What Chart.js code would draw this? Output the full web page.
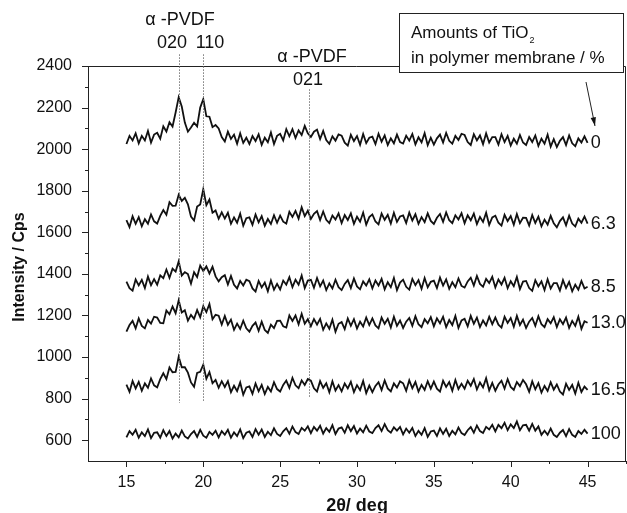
<!DOCTYPE html>
<html>
<head>
<meta charset="utf-8">
<script src="https://cdn.jsdelivr.net/npm/chart.js@4/dist/chart.umd.min.js"></script>
<style>
  html, body { margin: 0; padding: 0; background: #fff; }
  #wrap { width: 627px; height: 513px; }
</style>
</head>
<body>
<div id="wrap"><canvas id="xrd" width="627" height="513"></canvas></div>
<script>
// 2theta grid: 15.0 .. 45.0 in 0.2 deg steps
const twoTheta = Array.from({ length: 151 }, (_, i) => +(15 + i * 0.2).toFixed(1));

// TiO2 content labels (%), top to bottom
const tio2Labels = ['0', '6.3', '8.5', '13.0', '16.5', '100'];

// intensities (Cps, already offset as plotted)
const pct0 = [
  2025, 2064, 2042, 2076, 2028, 2064, 2042, 2088, 2032, 2070,
  2079, 2050, 2110, 2085, 2130, 2109, 2176, 2250, 2205, 2128,
  2084, 2104, 2127, 2109, 2200, 2240, 2158, 2156, 2106, 2116,
  2100, 2058, 2037, 2084, 2049, 2070, 2026, 2076, 2030, 2055,
  2025, 2063, 2039, 2071, 2021, 2055, 2033, 2080, 2025, 2064,
  2074, 2042, 2096, 2062, 2096, 2054, 2090, 2068, 2112, 2076,
  2059, 2084, 2094, 2049, 2088, 2044, 2026, 2062, 2041, 2071,
  2065, 2031, 2017, 2069, 2039, 2063, 2021, 2073, 2029, 2055,
  2060, 2024, 2074, 2036, 2066, 2020, 2052, 2028, 2070, 2034,
  2027, 2065, 2041, 2073, 2023, 2057, 2033, 2077, 2019, 2055,
  2022, 2052, 2070, 2032, 2078, 2040, 2026, 2064, 2044, 2074,
  2068, 2034, 2020, 2072, 2042, 2066, 2024, 2076, 2032, 2058,
  2058, 2022, 2072, 2034, 2064, 2018, 2050, 2026, 2068, 2032,
  2020, 2058, 2034, 2066, 2016, 2050, 2026, 2070, 2012, 2048,
  2010, 2040, 2058, 2020, 2066, 2028, 2014, 2052, 2032, 2062,
  2030
];
const pct6_3 = [
  1659, 1625, 1677, 1641, 1673, 1629, 1663, 1641, 1686, 1653,
  1642, 1679, 1707, 1684, 1745, 1727, 1728, 1781, 1751, 1766,
  1735, 1676, 1657, 1724, 1734, 1808, 1731, 1758, 1694, 1705,
  1665, 1696, 1666, 1694, 1641, 1672, 1646, 1690, 1632, 1668,
  1672, 1636, 1686, 1648, 1678, 1632, 1664, 1640, 1682, 1646,
  1680, 1651, 1642, 1699, 1674, 1703, 1666, 1720, 1678, 1704,
  1664, 1689, 1702, 1659, 1700, 1660, 1644, 1681, 1661, 1691,
  1645, 1683, 1659, 1691, 1641, 1675, 1651, 1695, 1637, 1673,
  1686, 1652, 1638, 1690, 1660, 1684, 1642, 1694, 1650, 1676,
  1681, 1645, 1695, 1657, 1687, 1641, 1673, 1649, 1691, 1655,
  1640, 1670, 1688, 1650, 1696, 1658, 1644, 1682, 1662, 1692,
  1644, 1682, 1658, 1690, 1640, 1674, 1650, 1694, 1636, 1672,
  1680, 1646, 1632, 1684, 1654, 1678, 1636, 1688, 1644, 1670,
  1669, 1633, 1683, 1645, 1675, 1629, 1661, 1637, 1679, 1643,
  1624, 1654, 1672, 1634, 1680, 1642, 1628, 1666, 1646, 1676,
  1642
];
const pct8_5 = [
  1363, 1331, 1319, 1373, 1345, 1371, 1332, 1387, 1346, 1375,
  1348, 1393, 1379, 1421, 1381, 1425, 1411, 1460, 1392, 1408,
  1399, 1353, 1408, 1385, 1440, 1414, 1436, 1402, 1434, 1388,
  1364, 1384, 1394, 1349, 1390, 1347, 1330, 1366, 1344, 1372,
  1365, 1330, 1315, 1366, 1335, 1358, 1316, 1368, 1324, 1352,
  1325, 1368, 1348, 1384, 1336, 1372, 1348, 1392, 1332, 1368,
  1372, 1333, 1380, 1340, 1368, 1322, 1354, 1330, 1372, 1336,
  1322, 1352, 1370, 1332, 1378, 1340, 1326, 1364, 1344, 1374,
  1330, 1368, 1344, 1376, 1326, 1360, 1336, 1380, 1322, 1358,
  1372, 1338, 1324, 1376, 1346, 1370, 1328, 1380, 1336, 1362,
  1368, 1332, 1382, 1344, 1374, 1328, 1360, 1336, 1378, 1342,
  1334, 1364, 1382, 1344, 1390, 1352, 1338, 1376, 1356, 1386,
  1335, 1373, 1349, 1381, 1331, 1365, 1341, 1385, 1327, 1363,
  1366, 1332, 1318, 1370, 1340, 1364, 1322, 1374, 1330, 1356,
  1356, 1320, 1370, 1332, 1362, 1316, 1348, 1324, 1366, 1330,
  1338
];
const pct13 = [
  1122, 1154, 1174, 1138, 1186, 1150, 1138, 1178, 1161, 1194,
  1190, 1164, 1162, 1224, 1206, 1243, 1211, 1273, 1214, 1225,
  1175, 1203, 1184, 1226, 1191, 1245, 1216, 1255, 1182, 1203,
  1199, 1156, 1198, 1155, 1180, 1131, 1161, 1135, 1175, 1138,
  1122, 1150, 1166, 1126, 1170, 1130, 1116, 1156, 1139, 1174,
  1175, 1148, 1142, 1200, 1174, 1200, 1158, 1208, 1160, 1182,
  1148, 1183, 1156, 1184, 1131, 1162, 1136, 1180, 1122, 1160,
  1168, 1134, 1186, 1150, 1182, 1137, 1170, 1147, 1190, 1154,
  1186, 1152, 1138, 1190, 1160, 1184, 1142, 1194, 1150, 1176,
  1140, 1170, 1188, 1150, 1196, 1158, 1144, 1182, 1162, 1192,
  1148, 1186, 1162, 1194, 1144, 1178, 1154, 1198, 1140, 1176,
  1184, 1148, 1198, 1160, 1190, 1144, 1176, 1152, 1194, 1158,
  1190, 1156, 1142, 1194, 1164, 1188, 1146, 1198, 1154, 1180,
  1140, 1170, 1188, 1150, 1196, 1158, 1144, 1182, 1162, 1192,
  1144, 1182, 1158, 1190, 1140, 1174, 1150, 1194, 1136, 1172,
  1165
];
const pct16_5 = [
  867, 833, 885, 849, 881, 838, 873, 852, 897, 864,
  854, 894, 922, 894, 950, 927, 928, 1001, 951, 951,
  925, 878, 857, 924, 929, 963, 896, 928, 874, 890,
  852, 884, 856, 884, 831, 862, 836, 878, 819, 854,
  859, 823, 873, 835, 866, 822, 856, 834, 879, 846,
  834, 866, 887, 852, 900, 864, 850, 888, 866, 894,
  886, 850, 834, 884, 852, 874, 831, 883, 839, 865,
  835, 873, 849, 881, 831, 865, 841, 885, 827, 863,
  831, 861, 879, 841, 887, 849, 835, 873, 853, 883,
  874, 838, 888, 850, 880, 834, 866, 842, 884, 848,
  882, 848, 834, 886, 856, 880, 838, 890, 846, 872,
  848, 886, 862, 894, 844, 878, 854, 898, 840, 876,
  838, 868, 886, 848, 894, 856, 842, 880, 860, 890,
  869, 833, 883, 845, 875, 829, 861, 837, 879, 843,
  868, 834, 820, 872, 842, 866, 824, 876, 832, 858,
  842
];
const pct100 = [
  614, 644, 626, 650, 612, 638, 620, 652, 610, 636,
  638, 612, 648, 620, 644, 608, 632, 614, 646, 618,
  608, 630, 644, 616, 650, 622, 612, 640, 626, 646,
  614, 644, 626, 650, 612, 638, 620, 652, 610, 636,
  642, 616, 653, 626, 651, 616, 641, 624, 657, 630,
  620, 643, 658, 631, 666, 639, 630, 659, 646, 667,
  634, 664, 646, 670, 632, 658, 640, 672, 630, 656,
  662, 636, 672, 644, 668, 632, 656, 638, 670, 642,
  634, 658, 672, 644, 677, 648, 636, 662, 646, 664,
  628, 656, 636, 659, 620, 645, 626, 658, 616, 642,
  646, 620, 657, 630, 655, 620, 645, 628, 661, 634,
  625, 648, 663, 636, 671, 644, 635, 664, 652, 674,
  642, 674, 658, 684, 648, 676, 658, 690, 648, 672,
  674, 646, 678, 646, 666, 626, 646, 626, 656, 626,
  615, 636, 649, 620, 654, 626, 616, 644, 630, 650,
  632
];

const seriesList = [pct0, pct6_3, pct8_5, pct13, pct16_5, pct100];

// alpha-PVDF reflections: position and [top, bottom] of the guide line
const peakPos = [18.4, 19.95, 26.85];
const peakSpan = [[2456, 779], [2456, 785], [2288, 803]];

const FONT = "'Liberation Sans', Arial, sans-serif";

const decorations = {
  id: 'decorations',
  afterDatasetsDraw(chart) {
    const { ctx, chartArea: a, scales: { x, y } } = chart;
    ctx.save();

    // frame top / right
    ctx.strokeStyle = '#222';
    ctx.lineWidth = 1;
    ctx.beginPath();
    ctx.moveTo(a.left, a.top + 0.5);
    ctx.lineTo(a.right - 0.5, a.top + 0.5);
    ctx.lineTo(a.right - 0.5, a.bottom);
    ctx.stroke();

    // tick marks (major long, minor short), pointing out
    ctx.beginPath();
    for (let v = 15; v <= 47.5; v += 2.5) {
      const px = Math.round(x.getPixelForValue(v)) + 0.5;
      const len = v % 5 === 0 ? 6 : 3;
      ctx.moveTo(px, a.bottom);
      ctx.lineTo(px, a.bottom + len);
    }
    for (let v = 600; v <= 2400; v += 100) {
      const py = Math.round(y.getPixelForValue(v)) + 0.5;
      const len = v % 200 === 0 ? 6 : 3;
      ctx.moveTo(a.left, py);
      ctx.lineTo(a.left - len, py);
    }
    ctx.stroke();

    // guide lines for the alpha-PVDF peaks
    ctx.strokeStyle = '#777';
    ctx.lineWidth = 1;
    ctx.setLineDash([1.5, 1.5]);
    peakPos.forEach((p, i) => {
      const px = Math.round(x.getPixelForValue(p)) + 0.5;
      ctx.beginPath();
      ctx.moveTo(px, y.getPixelForValue(peakSpan[i][0]));
      ctx.lineTo(px, y.getPixelForValue(peakSpan[i][1]));
      ctx.stroke();
    });
    ctx.setLineDash([]);

    // peak annotations
    ctx.fillStyle = '#111';
    ctx.textAlign = 'center';
    ctx.textBaseline = 'middle';
    ctx.font = '18px ' + FONT;
    ctx.fillText('\u03b1 -PVDF', 180, 20);
    ctx.fillText('020', 172, 43);
    ctx.fillText('110', 210, 43);
    ctx.fillText('\u03b1 -PVDF', 312, 57);
    ctx.fillText('021', 308, 80);

    // series labels at the right end
    ctx.textAlign = 'left';
    ctx.font = '18px ' + FONT;
    seriesList.forEach((s, i) => {
      const py = y.getPixelForValue(s[s.length - 1]);
      ctx.fillText(tio2Labels[i], x.getPixelForValue(45.2), py);
    });

    // legend box
    ctx.fillStyle = '#fff';
    ctx.fillRect(399, 13, 224, 59);
    ctx.strokeStyle = '#222';
    ctx.strokeRect(399.5, 13.5, 224, 59);
    ctx.fillStyle = '#111';
    ctx.font = '17px ' + FONT;
    ctx.textBaseline = 'alphabetic';
    const line1 = 'Amounts of TiO';
    ctx.fillText(line1, 411, 38);
    const w1 = ctx.measureText(line1).width;
    ctx.font = '9px ' + FONT;
    ctx.fillText('2', 411 + w1 + 1, 43);
    ctx.font = '17px ' + FONT;
    ctx.fillText('in polymer membrane / %', 411, 63);

    // arrow from legend to the 0 % trace
    const x0 = 586, y0 = 82, x1 = 595, y1 = 126;
    ctx.beginPath();
    ctx.moveTo(x0, y0);
    ctx.lineTo(x1, y1);
    ctx.stroke();
    const ang = Math.atan2(y1 - y0, x1 - x0);
    ctx.beginPath();
    ctx.moveTo(x1, y1);
    ctx.lineTo(x1 - 9 * Math.cos(ang - 0.3), y1 - 9 * Math.sin(ang - 0.3));
    ctx.lineTo(x1 - 9 * Math.cos(ang + 0.3), y1 - 9 * Math.sin(ang + 0.3));
    ctx.closePath();
    ctx.fill();

    // axis titles
    ctx.font = 'bold 18px ' + FONT;
    ctx.textAlign = 'center';
    ctx.textBaseline = 'middle';
    ctx.fillText('2\u03b8/ deg', 357, 506);
    ctx.font = 'bold 16px ' + FONT;
    ctx.translate(20, 267);
    ctx.rotate(-Math.PI / 2);
    ctx.fillText('Intensity / Cps', 0, 0);

    ctx.restore();
  }
};

new Chart(document.getElementById('xrd'), {
  type: 'line',
  data: {
    datasets: seriesList.map((s, i) => ({
      label: tio2Labels[i],
      data: twoTheta.map((t, k) => ({ x: t, y: s[k] })),
      borderColor: '#111',
      borderWidth: 1.8,
      pointRadius: 0,
      tension: 0,
      fill: false
    }))
  },
  options: {
    responsive: false,
    animation: false,
    layout: { padding: { top: 66, right: 1, left: 0, bottom: 0 } },
    plugins: { legend: { display: false }, tooltip: { enabled: false } },
    scales: {
      x: {
        type: 'linear',
        min: 12.5,
        max: 47.5,
        afterFit(scale) { scale.height = 52; },
        afterBuildTicks(scale) {
          const t = [];
          for (let v = 15; v <= 45; v += 5) t.push({ value: v });
          scale.ticks = t;
        },
        grid: { display: true, drawOnChartArea: false, drawTicks: false },
        border: { display: true, color: '#222', width: 1 },
        ticks: {
          color: '#111',
          padding: 12,
          maxRotation: 0,
          callback: v => String(v),
          font: { family: FONT, size: 16 }
        }
      },
      y: {
        min: 500,
        max: 2400,
        afterFit(scale) { scale.width = 88; },
        afterBuildTicks(scale) {
          const t = [];
          for (let v = 600; v <= 2400; v += 200) t.push({ value: v });
          scale.ticks = t;
        },
        grid: { display: true, drawOnChartArea: false, drawTicks: false },
        border: { display: true, color: '#222', width: 1 },
        ticks: {
          color: '#111',
          padding: 16,
          callback: v => String(v),
          font: { family: FONT, size: 16 }
        }
      }
    }
  },
  plugins: [decorations]
});
</script>
</body>
</html>
